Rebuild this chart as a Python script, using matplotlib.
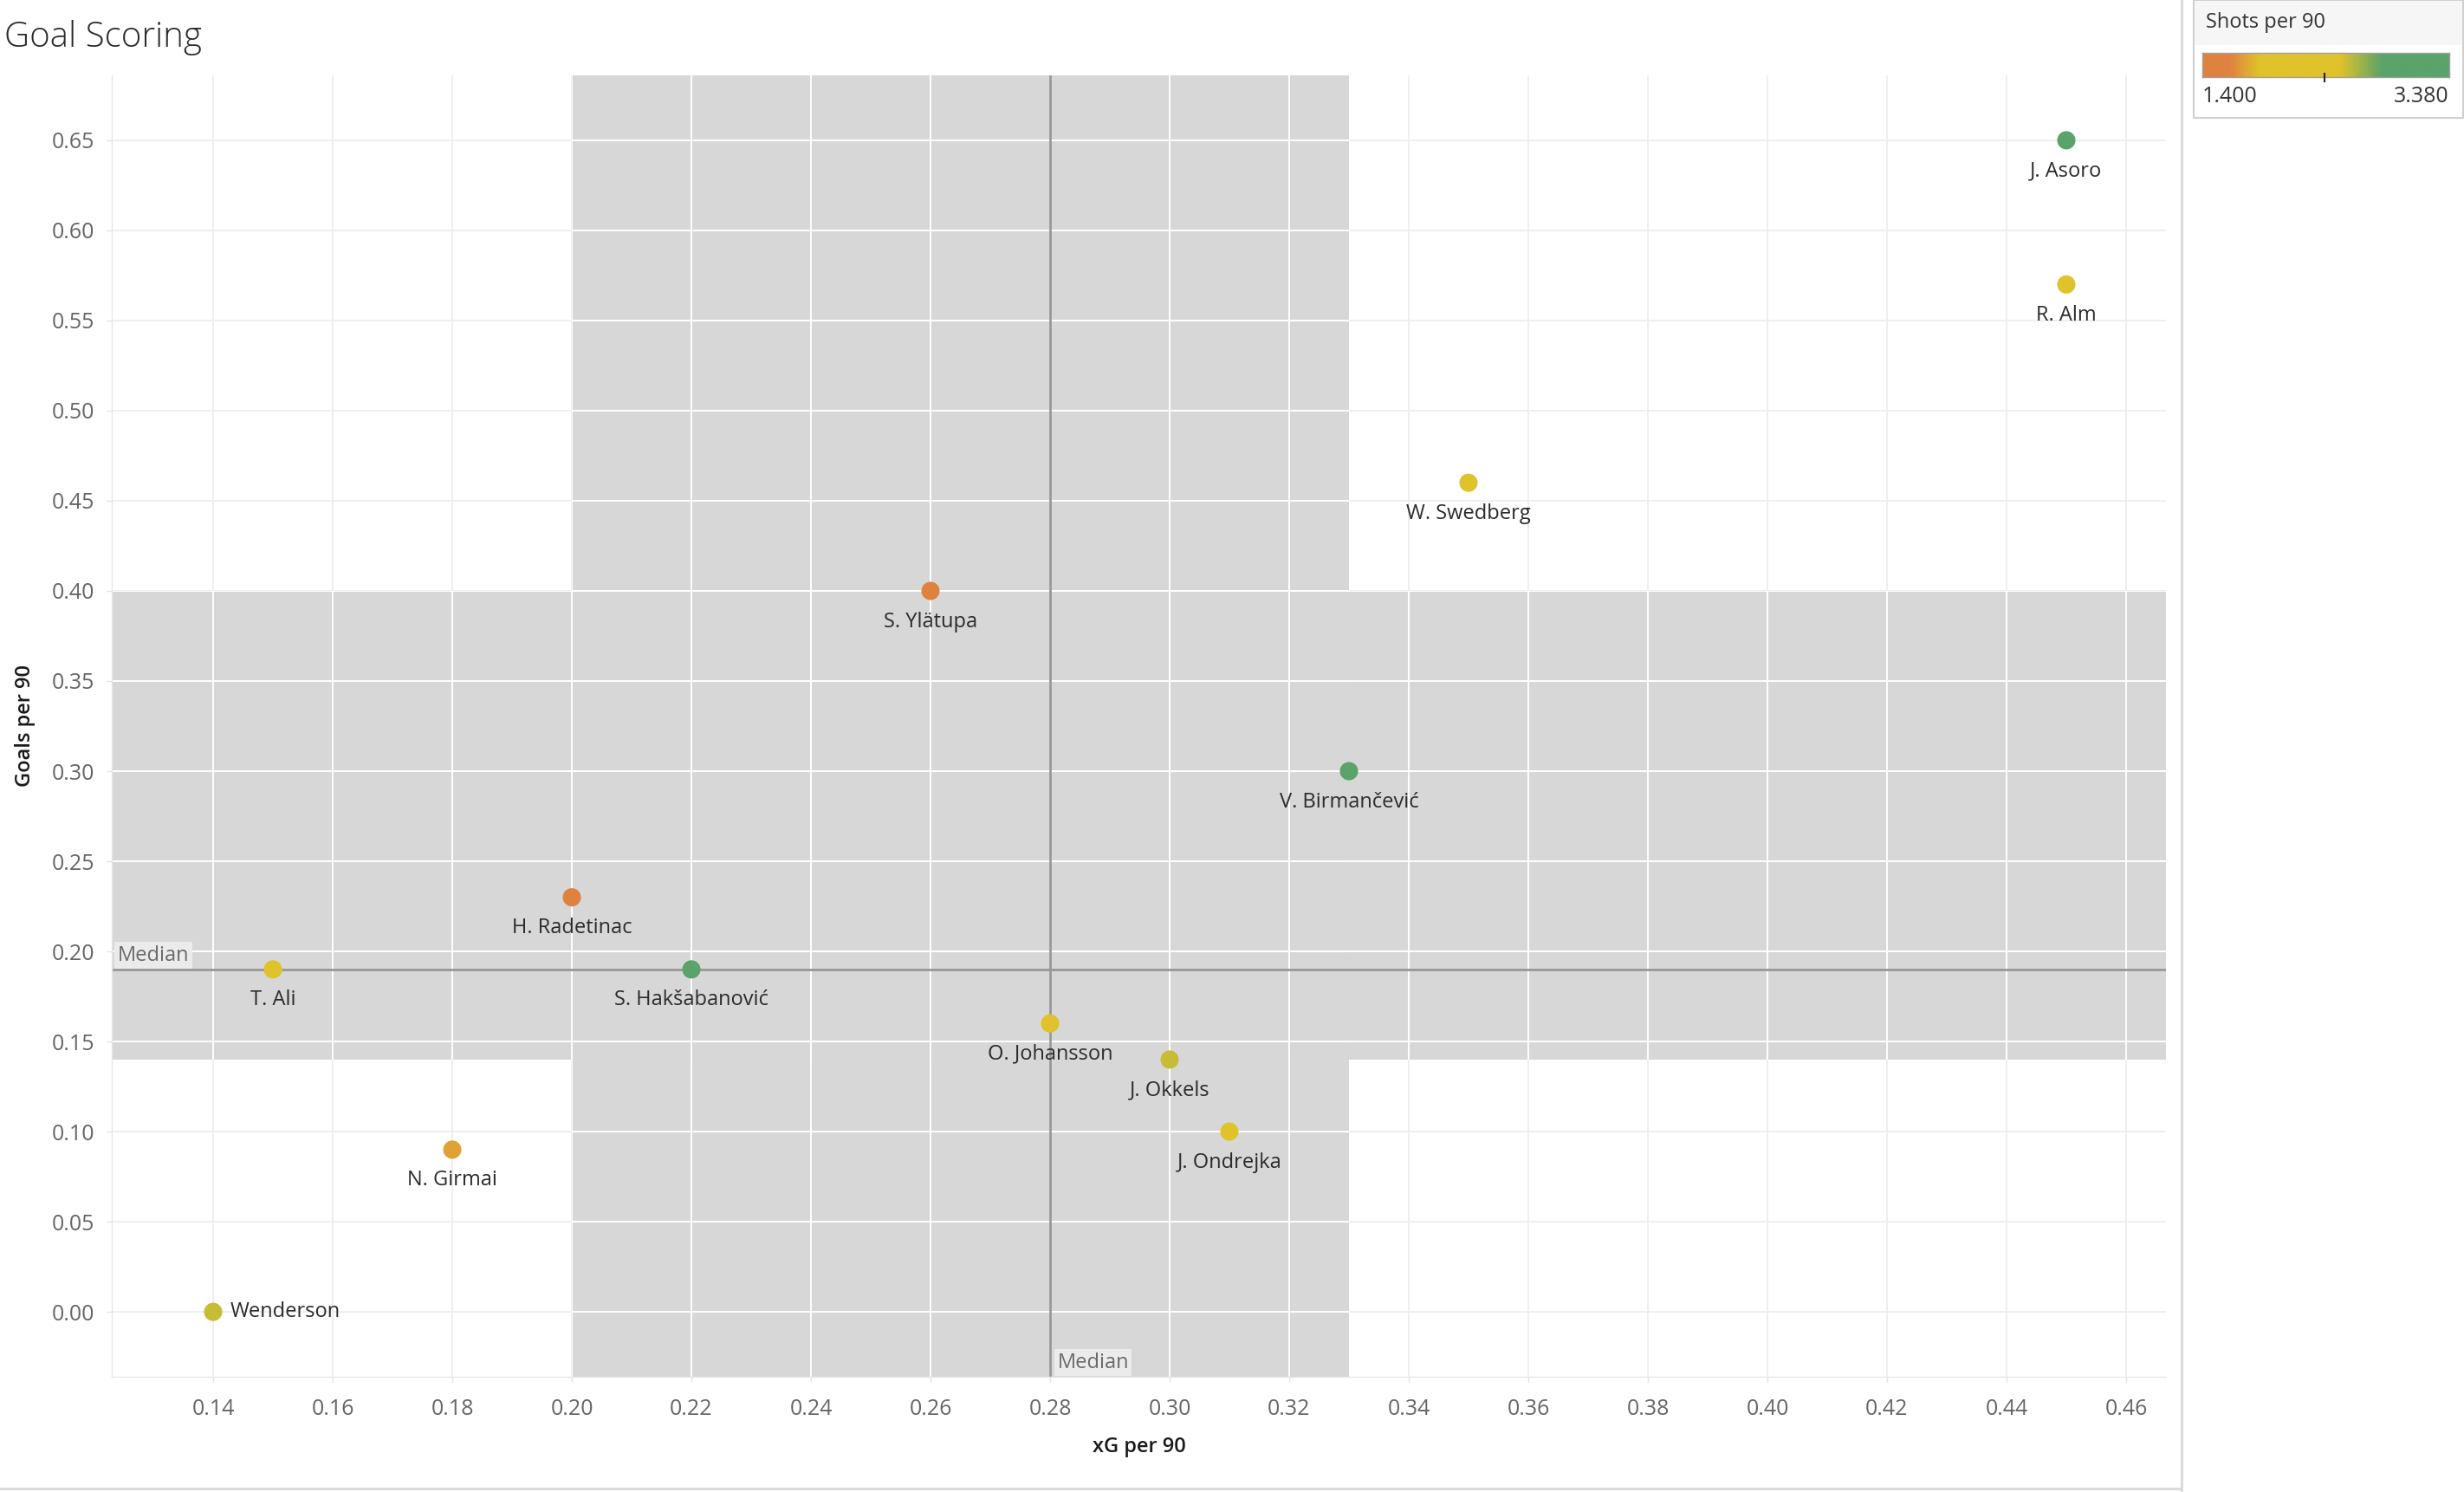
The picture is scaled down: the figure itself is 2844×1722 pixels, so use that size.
import numpy as np
import matplotlib
matplotlib.use("Agg")
import matplotlib.pyplot as plt
from matplotlib.colors import LinearSegmentedColormap, Normalize
from matplotlib.patches import Rectangle
from matplotlib.lines import Line2D

plt.rcParams['font.family'] = ['Open Sans', 'DejaVu Sans']

# ---------------- data ----------------
players = ["J. Asoro", "R. Alm", "W. Swedberg", "S. Ylätupa", "V. Birmančević",
           "H. Radetinac", "T. Ali", "S. Hakšabanović", "O. Johansson", "J. Okkels",
           "J. Ondrejka", "N. Girmai", "Wenderson"]
xg_per90 = [0.45, 0.45, 0.35, 0.26, 0.33, 0.20, 0.15, 0.22, 0.28, 0.30, 0.31, 0.18, 0.14]
goals_per90 = [0.65, 0.57, 0.46, 0.40, 0.30, 0.23, 0.19, 0.19, 0.16, 0.14, 0.10, 0.09, 0.00]
shots_per90 = [3.38, 2.19, 2.29, 1.40, 3.08, 1.50, 2.09, 2.98, 2.20, 2.57, 2.50, 1.74, 2.57]
label_right = ["Wenderson"]

median_x = 0.28
median_y = 0.19
band_x = (0.20, 0.33)
band_y = (0.14, 0.40)

x_ticks = [0.14, 0.16, 0.18, 0.20, 0.22, 0.24, 0.26, 0.28, 0.30, 0.32, 0.34,
           0.36, 0.38, 0.40, 0.42, 0.44, 0.46]
y_ticks = [0.00, 0.05, 0.10, 0.15, 0.20, 0.25, 0.30, 0.35, 0.40, 0.45, 0.50,
           0.55, 0.60, 0.65]
shots_min, shots_max = 1.400, 3.380

# ---------------- styling ----------------
W, H = 2844, 1722
fig = plt.figure(figsize=(W / 100, H / 100), dpi=100)

def fx(px):
    return px / W

def fy(py):
    return 1 - py / H

orange = "#e0823f"
yellow = "#e0c22a"
green = "#5aa36a"
cmap = LinearSegmentedColormap.from_list(
    "tab_og", [(0.0, orange), (0.11, orange), (0.23, yellow),
               (0.56, yellow), (0.73, green), (1.0, green)])
norm = Normalize(shots_min, shots_max)

L, R, T, B = 129, 2500, 87, 1589
ax = fig.add_axes([fx(L), fy(B), fx(R) - fx(L), fy(T) - fy(B)])
ax.set_xlim(0.12304, 0.46667)
ax.set_ylim(-0.036, 0.686)

# light grid
for xv in x_ticks:
    ax.axvline(xv, color="#efefef", lw=1.4, zorder=0.5)
for yv in y_ticks:
    ax.axhline(yv, color="#efefef", lw=1.4, zorder=0.5)

# shaded cross bands
band_color = "#d7d7d7"
ylo, yhi = ax.get_ylim()
xlo, xhi = ax.get_xlim()
rect_v = Rectangle((band_x[0], ylo), band_x[1] - band_x[0], yhi - ylo,
                   facecolor=band_color, edgecolor="none", zorder=1)
rect_h = Rectangle((xlo, band_y[0]), xhi - xlo, band_y[1] - band_y[0],
                   facecolor=band_color, edgecolor="none", zorder=1)
ax.add_patch(rect_v)
ax.add_patch(rect_h)

# white grid inside bands
for rect in (rect_v, rect_h):
    for xv in x_ticks:
        ln = ax.axvline(xv, color="white", lw=1.4, zorder=1.5)
        ln.set_clip_path(rect)
    for yv in y_ticks:
        ln = ax.axhline(yv, color="white", lw=1.4, zorder=1.5)
        ln.set_clip_path(rect)

# median lines
ax.axvline(median_x, color="#989898", lw=2.0, zorder=2)
ax.axhline(median_y, color="#989898", lw=2.0, zorder=2)

# points
ax.scatter(xg_per90, goals_per90, c=shots_per90, cmap=cmap, norm=norm,
           s=230, linewidths=0, zorder=3)

for name, xv, yv in zip(players, xg_per90, goals_per90):
    if name in label_right:
        ax.annotate(name, (xv, yv), xytext=(14, 0), textcoords="offset points",
                    ha="left", va="center", fontsize=17, color="#2b2b2b", zorder=4)
    else:
        ax.annotate(name, (xv, yv), xytext=(0, -17), textcoords="offset points",
                    ha="center", va="top", fontsize=17, color="#2b2b2b", zorder=4)

# median labels
ax.annotate("Median", (xlo, median_y), xytext=(5, 3), textcoords="offset points",
            ha="left", va="bottom", fontsize=17, color="#6a6a6a", zorder=5,
            bbox=dict(boxstyle="square,pad=0.15", fc="#ebebeb", ec="none"))
ax.annotate("Median", (median_x, ylo), xytext=(6, 3), textcoords="offset points",
            ha="left", va="bottom", fontsize=17, color="#6a6a6a", zorder=5,
            bbox=dict(boxstyle="square,pad=0.15", fc="#ebebeb", ec="none"))

# axes styling
ax.set_xticks(x_ticks)
ax.set_xticklabels([f"{v:.2f}" for v in x_ticks])
ax.set_yticks(y_ticks)
ax.set_yticklabels([f"{v:.2f}" for v in y_ticks])
ax.tick_params(axis="both", labelsize=18, labelcolor="#666666", color="#e3e3e3",
               length=4, width=1)
ax.tick_params(axis="x", pad=14)
ax.tick_params(axis="y", pad=10)
for sp in ["top", "right"]:
    ax.spines[sp].set_visible(False)
for sp in ["left", "bottom"]:
    ax.spines[sp].set_color("#e6e6e6")
    ax.spines[sp].set_linewidth(1)
ax.set_xlabel("xG per 90", fontsize=17, color="#1a1a1a", fontweight="semibold",
              labelpad=14)
ax.set_ylabel("Goals per 90", fontsize=17, color="#1a1a1a", fontweight="semibold",
              labelpad=14)
ax.set_facecolor("white")

# title
fig.text(fx(5), fy(44), "Goal Scoring", fontsize=29, color="#2a2a2a",
         ha="left", va="center", fontweight="light")

# frame lines of the dashboard
fig.add_artist(Line2D([fx(2518), fx(2518)], [0, 1], color="#d8d8d8", lw=2))
fig.add_artist(Line2D([0, fx(2518)], [fy(1718), fy(1718)], color="#d8d8d8", lw=2))

# legend box
fig.add_artist(Rectangle((fx(2532), fy(136)), fx(2843) - fx(2532), fy(0) - fy(136),
                         transform=fig.transFigure, facecolor="white",
                         edgecolor="#d0d0d0", lw=1.5, zorder=0.1))
fig.add_artist(Rectangle((fx(2533), fy(52)), fx(2842) - fx(2533), fy(1) - fy(52),
                         transform=fig.transFigure, facecolor="#f6f6f6",
                         edgecolor="none", zorder=0.2))
fig.text(fx(2546), fy(26), "Shots per 90", fontsize=17, color="#333333",
         ha="left", va="center", zorder=3)

cax = fig.add_axes([fx(2542), fy(89), fx(2827) - fx(2542), fy(61) - fy(89)])
cax.set_zorder(5)
grad = np.linspace(0, 1, 512).reshape(1, -1)
cax.imshow(grad, aspect="auto", cmap=cmap, extent=[0, 1, 0, 1])
cax.set_xlim(0, 1)
cax.set_ylim(0, 1)
cax.set_xticks([])
cax.set_yticks([])
for sp in cax.spines.values():
    sp.set_color("#a0a0a0")
    sp.set_linewidth(1)
fig.add_artist(Line2D([fx(2683), fx(2683)], [fy(85), fy(94)], color="#222222",
                      lw=1.5, zorder=6))
fig.text(fx(2542), fy(111), f"{shots_min:.3f}", fontsize=18, color="#333333",
         ha="left", va="center", zorder=3)
fig.text(fx(2827), fy(111), f"{shots_max:.3f}", fontsize=18, color="#333333",
         ha="right", va="center", zorder=3)

fig.savefig("out.png", dpi=100, facecolor="white")
